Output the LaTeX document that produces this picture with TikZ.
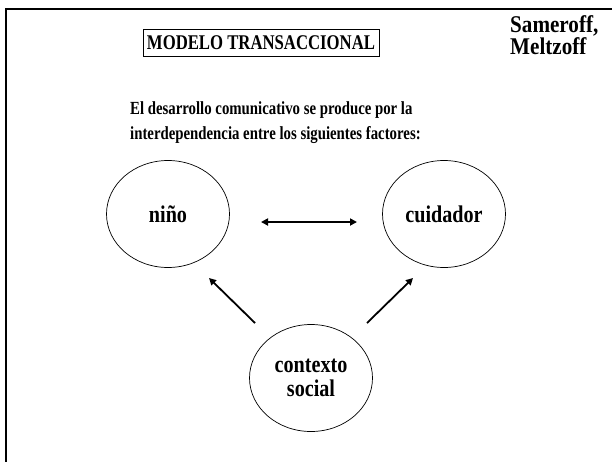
\documentclass[tikz,border=0pt]{standalone}
\usepackage{fontspec}
\setmainfont{Liberation Serif}[FakeStretch=0.88]
\newfontfamily\introfont{Liberation Serif}[FakeStretch=0.8]
\newfontfamily\titlefont{Liberation Serif}[FakeStretch=0.8]
\newfontfamily\factorfont{Liberation Serif}[FakeStretch=0.84]
\usetikzlibrary{arrows.meta,shapes.geometric}
\begin{document}
\begin{tikzpicture}[x=1pt,y=-1pt,
  factor/.style={draw, line width=0.7pt, ellipse, minimum width=123pt, minimum height=107pt, inner sep=0pt, font=\factorfont\bfseries\fontsize{24}{24}\selectfont, align=center},
  txt/.style={anchor=base west, inner sep=0pt, font=\introfont\bfseries\fontsize{18.5}{24}\selectfont},
  auth/.style={anchor=base west, inner sep=0pt, font=\bfseries\fontsize{24}{24}\selectfont},
  tip/.style={-{Triangle[length=7pt,width=7pt]}},
  conn/.style={line width=1.8pt, tip},
  frame/.style={line width=2.5pt}
]
\useasboundingbox (0,0) rectangle (612,461);
\draw[frame] (6,470) -- (6,9) -- (620,9);
\node[draw, line width=0.7pt, minimum width=236pt, minimum height=27pt, inner sep=0pt, font=\titlefont\bfseries\fontsize{20.9}{21}\selectfont] (title) at (261,42.5) {MODELO TRANSACCIONAL};
\node[auth] (autor1) at (510,32) {Sameroff,};
\node[auth] (autor2) at (510,54) {Meltzoff};
\node[txt] (intro1) at (130,114) {El desarrollo comunicativo se produce por la};
\node[txt] (intro2) at (130,139) {interdependencia entre los siguientes factores:};
\node[factor] (nino) at (168,214) {niño};
\node[factor] (cuid) at (444,214) {cuidador};
\node[factor] (ctx) at (311,378) {contexto\\social};
\coordinate (a1) at (261,222);
\coordinate (a2) at (357,222);
\draw[line width=1.8pt, {Triangle[length=7pt,width=7pt]}-{Triangle[length=7pt,width=7pt]}] (a1) -- (a2);
\coordinate (l1) at (255,323);
\coordinate (l2) at (209,278);
\coordinate (r1) at (367,323);
\coordinate (r2) at (413,278);
\draw[conn] (l1) -- (l2);
\draw[conn] (r1) -- (r2);
\end{tikzpicture}
\end{document}
